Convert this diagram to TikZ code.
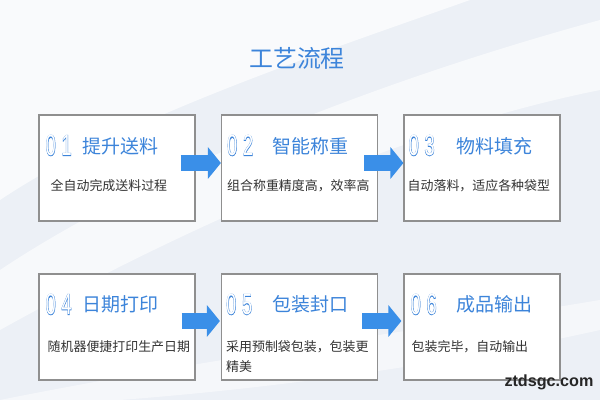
\documentclass[tikz,border=0pt]{standalone}
\usepackage{fontspec}
\setmainfont{Noto Sans CJK SC}
\newfontfamily\digitfont{Liberation Sans}
\newfontfamily\digitedge[FakeBold=3]{Liberation Sans}
\newfontfamily\webfont{Liberation Sans}
\usepackage{graphicx}
\usetikzlibrary{arrows.meta, positioning, calc}
\usepackage{xcolor}
\definecolor{flowblue}{HTML}{3C84DA}
\definecolor{arrowblue}{HTML}{3A8FE8}
\definecolor{boxgrey}{HTML}{8F8F8F}
\definecolor{textgrey}{HTML}{333333}
\definecolor{bgblue}{HTML}{ECF0F6}
% hollow digit: blue emboldened copy under a white copy
\newcommand{\outnum}[1]{\scalebox{0.62}[1]{\rlap{\digitedge\color{flowblue}#1}{\digitfont\color{white}#1}}}
\tikzset{
  stepbox/.style={rectangle, draw=boxgrey, fill=white, line width=0.8pt,
                  minimum width=3.9cm, minimum height=2.65cm, inner sep=0},
  stepnum/.style={anchor=west, inner sep=0,
                  font=\fontsize{21}{21}\selectfont},
  steptitle/.style={anchor=west, inner sep=0, text=flowblue,
                    font=\fontsize{13.5}{14}\selectfont},
  stepdesc/.style={anchor=base west, inner sep=0, text=textgrey,
                   font=\fontsize{9.2}{14}\selectfont, align=left},
  flowarrow/.style={draw=arrowblue, line width=10.7pt,
                    -{Triangle[length=9.2pt, width=22pt]}},
  headline/.style={text=flowblue, font=\fontsize{17}{18}\selectfont},
}

\begin{document}
\begin{tikzpicture}[x=0.025cm, y=-0.025cm]
  \useasboundingbox (0,0) rectangle (600,400);

  % --- Background ---
  \fill[bgblue] (0,0) rectangle (600,400);
  \fill[white, opacity=0.7] (0,0) -- (470,0) .. controls (300,60) and (120,120) .. (0,200) -- cycle;
  \fill[white, opacity=0.6] (0,270) .. controls (150,170) and (380,80) .. (600,20)
    -- (600,90) .. controls (400,130) and (180,230) .. (0,330) -- cycle;
  \fill[white, opacity=0.5] (0,400) .. controls (200,360) and (420,330) .. (600,300)
    -- (600,330) .. controls (420,370) and (250,390) .. (120,400) -- cycle;

  % --- Heading ---
  \node[headline] (head) at (297,58) {工艺流程};

  % --- Step boxes ---
  \node[stepbox] (box1) at (117,168) {};
  \node[stepbox] (box2) at (299.5,168) {};
  \node[stepbox] (box3) at (482,168) {};
  \node[stepbox] (box4) at (117,327) {};
  \node[stepbox] (box5) at (299.5,327) {};
  \node[stepbox] (box6) at (482,327) {};

  % --- Row 1 texts ---
  \node[stepnum]   (num1)   at ($(box1.north west)+(7,31)$)  {\outnum{0}\hspace{4pt}\outnum{1}};
  \node[steptitle] (title1) at ($(box1.north west)+(44,32)$) {提升送料};
  \node[stepdesc]  (desc1)  at ($(box1.north west)+(12,76)$) {全自动完成送料过程};

  \node[stepnum]   (num2)   at ($(box2.north west)+(6,31)$)  {\outnum{0}\hspace{4pt}\outnum{2}};
  \node[steptitle] (title2) at ($(box2.north west)+(51,32)$) {智能称重};
  \node[stepdesc]  (desc2)  at ($(box2.north west)+(6,76)$)  {组合称重精度高，效率高};

  \node[stepnum]   (num3)   at ($(box3.north west)+(5,31)$)  {\outnum{0}\hspace{4pt}\outnum{3}};
  \node[steptitle] (title3) at ($(box3.north west)+(53,32)$) {物料填充};
  \node[stepdesc]  (desc3)  at ($(box3.north west)+(4,76)$)  {自动落料，适应各种袋型};

  % --- Row 2 texts ---
  \node[stepnum]   (num4)   at ($(box4.north west)+(7,31)$)  {\outnum{0}\hspace{4pt}\outnum{4}};
  \node[steptitle] (title4) at ($(box4.north west)+(44,31)$) {日期打印};
  \node[stepdesc]  (desc4)  at ($(box4.north west)+(9,78)$)  {随机器便捷打印生产日期};

  \node[stepnum]   (num5)   at ($(box5.north west)+(5,31)$)  {\outnum{0}\hspace{4pt}\outnum{5}};
  \node[steptitle] (title5) at ($(box5.north west)+(51,31)$) {包装封口};
  % base of a two-line node sits on its last line
  \node[stepdesc]  (desc5)  at ($(box5.north west)+(5,98)$)  {采用预制袋包装，包装更\\精美};

  \node[stepnum]   (num6)   at ($(box6.north west)+(7,31)$)  {\outnum{0}\hspace{4pt}\outnum{6}};
  \node[steptitle] (title6) at ($(box6.north west)+(53,31)$) {成品输出};
  \node[stepdesc]  (desc6)  at ($(box6.north west)+(8,78)$)  {包装完毕，自动输出};

  % --- Arrows ---
  \draw[flowarrow] ($(box1.east)+(-15,-5)$) -- ($(box2.west)+(0,-5)$);
  \draw[flowarrow] ($(box2.east)+(-14,-5)$) -- ($(box3.west)+(0,-5)$);
  \draw[flowarrow] ($(box4.east)+(-14,-6)$) -- ($(box5.west)+(-1,-6)$);
  \draw[flowarrow] ($(box5.east)+(-16,-6)$) -- ($(box6.west)+(-2,-6)$);

  % --- Site mark ---
  \node[font=\webfont\bfseries\fontsize{11.5}{12}\selectfont, text=black!85] (site) at (549,382) {ztdsgc.com};
\end{tikzpicture}
\end{document}
